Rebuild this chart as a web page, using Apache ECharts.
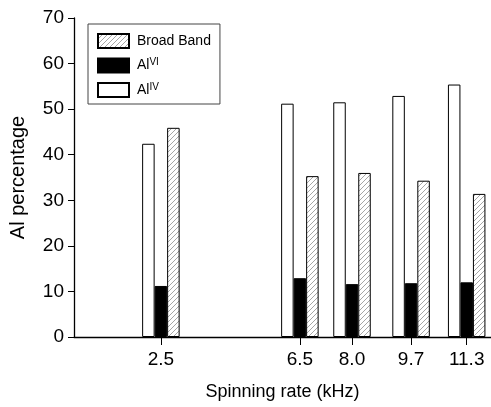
<!DOCTYPE html>
<html>
<head>
<meta charset="utf-8">
<script src="https://cdn.jsdelivr.net/npm/echarts@6/dist/echarts.min.js"></script>
<style>
html,body{margin:0;padding:0;background:#fff;}
#chart{width:491px;height:407px;}
</style>
</head>
<body>
<div id="chart"></div>
<script>
// Data
var spinningRates = [2.5, 6.5, 8.0, 9.7, 11.3];
var alIV = [42.4, 51.2, 51.5, 52.9, 55.4];
var alVI = [11.2, 12.9, 11.6, 11.8, 12.0];
var broadBand = [45.9, 35.3, 36.0, 34.3, 31.4];
var yTicks = [0, 10, 20, 30, 40, 50, 60, 70];

function pairs(xs, ys) { return xs.map(function (x, i) { return [x, ys[i]]; }); }

// hatch pattern
var pc = document.createElement('canvas');
pc.width = 5; pc.height = 5;
var ctx = pc.getContext('2d');
ctx.fillStyle = '#fff'; ctx.fillRect(0, 0, 5, 5);
ctx.strokeStyle = '#8f8f8f'; ctx.lineWidth = 0.8;
ctx.beginPath();
ctx.moveTo(0, 5); ctx.lineTo(5, 0);
ctx.moveTo(-1, 1); ctx.lineTo(1, -1);
ctx.moveTo(4, 6); ctx.lineTo(6, 4);
ctx.stroke();

var FONT = 'Liberation Sans, Arial, sans-serif';
var chart = echarts.init(document.getElementById('chart'), null, {renderer: 'canvas'});
var legendLabels = {
  'Broad Band': 'Broad Band',
  'AlVI': 'Al{sup|VI}',
  'AlIV': 'Al{sup|IV}'
};
chart.setOption({
  animation: false,
  backgroundColor: '#fff',
  textStyle: {fontFamily: FONT},
  grid: {left: 74, right: 0, top: 18, bottom: 70},
  legend: {
    orient: 'vertical',
    left: 88, top: 24,
    data: ['Broad Band', 'AlVI', 'AlIV'],
    itemWidth: 31, itemHeight: 14, itemGap: 8.5,
    padding: [9, 9, 6, 9],
    borderColor: '#444', borderWidth: 1,
    icon: 'rect',
    formatter: function (n) { return legendLabels[n]; },
    textStyle: {
      fontFamily: FONT, fontSize: 14, color: '#000', padding: [0, 0, 0, 3],
      rich: {sup: {fontSize: 10, fontFamily: FONT, color: '#000', verticalAlign: 'top', padding: [0, 0, 6, 0]}}
    }
  },
  xAxis: {
    type: 'value', min: 0, max: 12,
    name: 'Spinning rate (kHz)', nameLocation: 'middle', nameGap: 46,
    nameTextStyle: {fontFamily: FONT, fontSize: 18, color: '#000'},
    axisLine: {show: true, onZero: false, lineStyle: {color: '#000', width: 1.3}},
    axisTick: {show: true, length: 8, inside: false, customValues: spinningRates, lineStyle: {color: '#000'}},
    axisLabel: {
      show: true, customValues: spinningRates, margin: 13,
      fontFamily: FONT, fontSize: 19, color: '#000',
      formatter: function (v) { return v.toFixed(1); }
    },
    splitLine: {show: false}
  },
  yAxis: {
    type: 'value', min: 0, max: 70, interval: 10,
    name: 'Al percentage', nameLocation: 'middle', nameGap: 46, nameRotate: 90,
    nameTextStyle: {fontFamily: FONT, fontSize: 20, color: '#000'},
    axisLine: {show: true, lineStyle: {color: '#000', width: 1.3}},
    axisTick: {show: true, length: 6, inside: false, lineStyle: {color: '#000'}},
    axisLabel: {show: true, margin: 10, fontFamily: FONT, fontSize: 19, color: '#000'},
    splitLine: {show: false}
  },
  series: [
    {
      name: 'AlIV', type: 'bar', data: pairs(spinningRates, alIV),
      barWidth: 12.5, barGap: '0%',
      itemStyle: {color: '#fff', borderColor: '#000', borderWidth: 1}
    },
    {
      name: 'AlVI', type: 'bar', data: pairs(spinningRates, alVI),
      barWidth: 12.5, barGap: '0%',
      itemStyle: {color: '#000', borderColor: '#000', borderWidth: 1}
    },
    {
      name: 'Broad Band', type: 'bar', data: pairs(spinningRates, broadBand),
      barWidth: 12.5, barGap: '0%',
      itemStyle: {color: {image: pc, repeat: 'repeat'}, borderColor: '#000', borderWidth: 1}
    }
  ]
});
</script>
</body>
</html>
